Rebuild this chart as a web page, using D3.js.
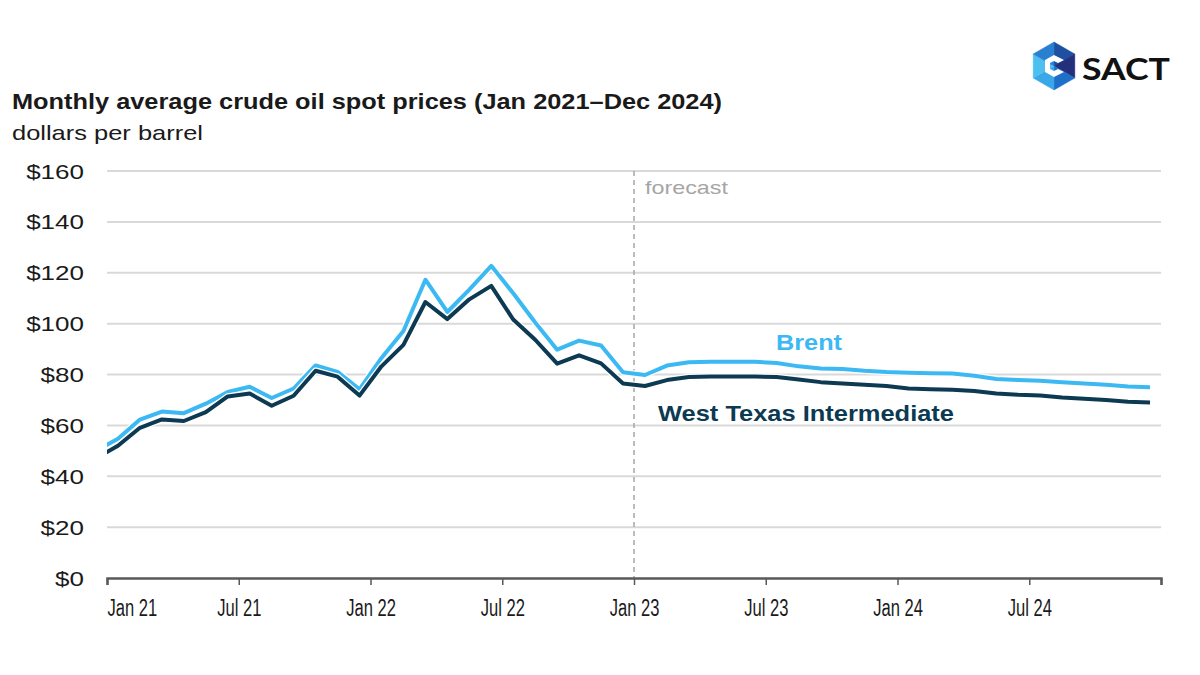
<!DOCTYPE html>
<html><head><meta charset="utf-8">
<script src="https://cdn.jsdelivr.net/npm/d3@7"></script>
<style>
html,body{margin:0;padding:0;background:#fff;}
svg{display:block;font-family:"Liberation Sans",Arial,sans-serif;}
</style></head>
<body>
<svg id="chart" width="1200" height="675"></svg>
<script>
// ---- data ----
const startMonth = "2020-12";   // first data month (partly off the left edge)
const brent = [49.99,
  54.77, 62.28, 65.41, 64.81, 68.53, 73.16, 75.17, 70.75, 74.49, 83.54, 81.05, 74.17,
  86.51, 97.13, 117.25, 104.58, 113.34, 122.71, 111.93, 100.45, 89.76, 93.33, 91.42, 80.92,
  79.8, 83.5, 84.8, 85.0, 85.0, 85.0, 84.5, 83.2, 82.4, 82.2, 81.5, 81.0,
  80.7, 80.5, 80.4, 79.5, 78.2, 77.8, 77.5, 77.0, 76.5, 76.0, 75.3, 75.0];
const wti = [47.02,
  52.00, 59.04, 62.33, 61.72, 65.17, 71.38, 72.49, 67.73, 71.65, 81.48, 79.15, 71.71,
  83.22, 91.64, 108.50, 101.78, 109.55, 114.84, 101.62, 93.67, 84.26, 87.55, 84.37, 76.44,
  75.5, 77.8, 79.0, 79.2, 79.2, 79.2, 79.0, 78.0, 77.0, 76.5, 76.0, 75.5,
  74.5, 74.2, 74.0, 73.5, 72.5, 72.0, 71.7, 71.0, 70.5, 70.0, 69.3, 69.0];
const xTickLabels = ["Jan 21","Jul 21","Jan 22","Jul 22","Jan 23","Jul 23","Jan 24","Jul 24",""];
const yTicks = [0,20,40,60,80,100,120,140,160];
const forecastStart = 24; // month index of Jan 2023
const titleText = "Monthly average crude oil spot prices (Jan 2021\u2013Dec 2024)";
const subtitleText = "dollars per barrel";

// ---- helpers ----
function stretch(sel, factor) {
  sel.each(function () {
    const len = this.getComputedTextLength();
    d3.select(this).attr("textLength", len * factor).attr("lengthAdjust", "spacingAndGlyphs");
  });
}
function fitTo(sel, w) {
  sel.attr("textLength", w).attr("lengthAdjust", "spacingAndGlyphs");
}

// ---- layout ----
const svg = d3.select("#chart");
const L = 107, R = 1161, T = 171, B = 578;
const x = d3.scaleLinear().domain([0, 48]).range([L, R]);
const y = d3.scaleLinear().domain([0, 160]).range([B, T]);
const idx = brent.map((d, i) => i - 1); // Dec 2020 = -1

// grid
svg.append("g").selectAll("line").data(yTicks.filter(d => d > 0)).join("line")
  .attr("x1", L).attr("x2", R).attr("y1", d => y(d)).attr("y2", d => y(d))
  .attr("stroke", "#d9d9d9").attr("stroke-width", 2);

// y labels
const yl = svg.append("g").selectAll("text").data(yTicks).join("text")
  .attr("x", 84).attr("y", d => y(d) + 7.5).attr("text-anchor", "end")
  .attr("font-size", 20).attr("fill", "#1a1a1a").text(d => "$" + d);
stretch(yl, 1.3);

// forecast line
svg.append("line").attr("x1", x(forecastStart)).attr("x2", x(forecastStart))
  .attr("y1", T).attr("y2", B).attr("stroke", "#a6a6a6").attr("stroke-width", 1.5)
  .attr("stroke-dasharray", "5,4");
const fc = svg.append("text").attr("x", x(forecastStart) + 11).attr("y", 194)
  .attr("font-size", 19).attr("fill", "#a6a6a6").text("forecast");
fitTo(fc, 83);

// x axis
const xAxis = d3.axisBottom(x).tickValues(d3.range(0, 49, 6)).tickSize(7)
  .tickFormat((d, i) => xTickLabels[i]);
const gx = svg.append("g").attr("transform", `translate(0,${B})`).call(xAxis);
gx.select(".domain").attr("stroke", "#595959").attr("stroke-width", 2.5);
gx.selectAll(".tick line").attr("stroke", "#595959").attr("stroke-width", 1.5);
const xt = gx.selectAll(".tick text").attr("font-size", 23).attr("fill", "#1a1a1a")
  .attr("font-family", "Liberation Sans, Arial, sans-serif").attr("y", 0).attr("dy", 38);
gx.selectAll(".tick text").filter((d, i) => i === 0).attr("text-anchor", "start");
stretch(xt, 0.72);

// lines
svg.append("clipPath").attr("id", "clip").append("rect")
  .attr("x", L).attr("y", 0).attr("width", R - L).attr("height", 675);
const line = d3.line().x((d, i) => x(idx[i] + 0.5)).y(d => y(d));
const gl = svg.append("g").attr("clip-path", "url(#clip)");
[[brent, "#3cb9f2"], [wti, "#0c3a52"]].forEach(([data, col]) => {
  gl.append("path").datum(data).attr("d", line).attr("fill", "none")
    .attr("stroke", "#fff").attr("stroke-width", 6.5).attr("stroke-linejoin", "round");
  gl.append("path").datum(data).attr("d", line).attr("fill", "none")
    .attr("stroke", col).attr("stroke-width", 4).attr("stroke-linejoin", "round");
});

// series labels
const bl = svg.append("text").attr("x", 776).attr("y", 350).attr("font-size", 22).attr("font-weight", "bold")
  .attr("fill", "#3cb9f2").text("Brent");
fitTo(bl, 66);
const wl = svg.append("text").attr("x", 658).attr("y", 421).attr("font-size", 22).attr("font-weight", "bold")
  .attr("fill", "#0c3a52").text("West Texas Intermediate");
fitTo(wl, 296);

// titles
const tt = svg.append("text").attr("x", 12).attr("y", 109).attr("font-size", 22).attr("font-weight", "bold")
  .attr("fill", "#1a1a1a").text(titleText);
fitTo(tt, 710);
const st = svg.append("text").attr("x", 12).attr("y", 140).attr("font-size", 21)
  .attr("fill", "#1a1a1a").text(subtitleText);
fitTo(st, 191);

// logo
const lg = svg.append("g").attr("transform", "translate(1054,66)");
const hexR = 24;
const hp = d3.range(6).map(k => {
  const a = Math.PI / 180 * (60 * k - 90);
  return [hexR * Math.cos(a), hexR * Math.sin(a)];
});
const triCols = ["#1f4fa0", "#232f7a", "#1e6fc8", "#3aa8e8", "#4ec0f0", "#2a80d0"];
hp.forEach((p, k) => {
  const q = hp[(k + 1) % 6];
  lg.append("path").attr("d", `M0,0L${p[0]},${p[1]}L${q[0]},${q[1]}Z`)
    .attr("fill", triCols[k]).attr("stroke", triCols[k]).attr("stroke-width", 0.5);
});
lg.append("path").attr("d", "M10,-6 L0,-11 L-9,-6 L-9,6 L0,11 L10,6 L4,3 L0,5 L-4,3 L-4,-3 L0,-5 L4,-3 Z")
  .attr("fill", "#fff");
const lt = svg.append("text").attr("x", 1082).attr("y", 80).attr("font-size", 30).attr("font-weight", "bold")
  .attr("font-family", "Lato, Liberation Sans, sans-serif").attr("fill", "#111").text("SACT");
fitTo(lt, 88);
</script>
</body></html>
